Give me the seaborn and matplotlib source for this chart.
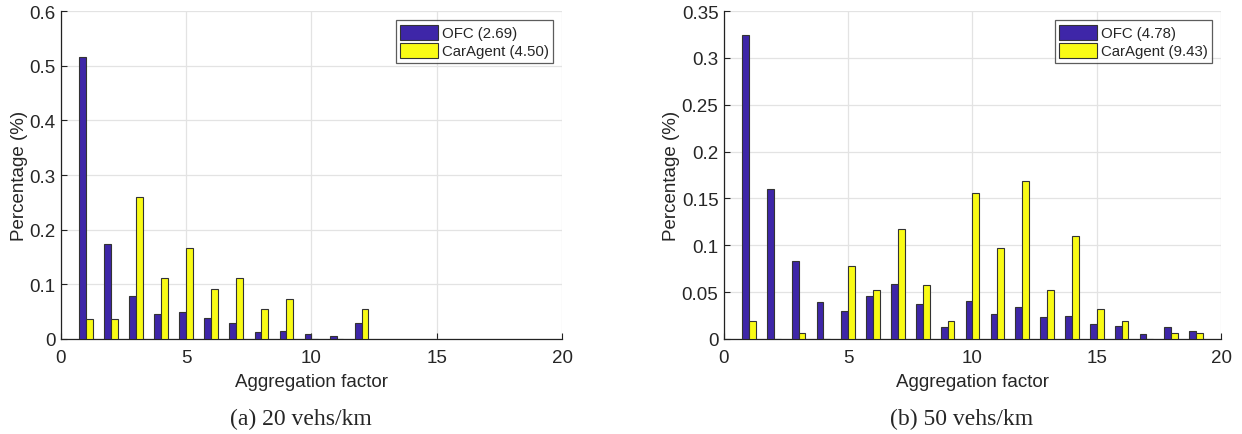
import numpy as np
import pandas as pd
import matplotlib
matplotlib.use("Agg")
import matplotlib.pyplot as plt
import matplotlib.ticker as mticker
import seaborn as sns

# ==========================================================
# Dados
# ==========================================================
fator_a = list(range(1, 13))
ofc_a = [0.516, 0.174, 0.078, 0.045, 0.049, 0.038, 0.029, 0.013, 0.015, 0.010, 0.005, 0.029]
car_a = [0.037, 0.037, 0.259, 0.111, 0.167, 0.092, 0.111, 0.055, 0.074, 0.0, 0.0, 0.055]

fator_b = list(range(1, 20))
ofc_b = [0.324, 0.160, 0.083, 0.040, 0.030, 0.046, 0.059, 0.037, 0.0125, 0.041,
         0.027, 0.034, 0.024, 0.025, 0.016, 0.014, 0.005, 0.0125, 0.008]
car_b = [0.019, 0.0, 0.0065, 0.0, 0.078, 0.052, 0.117, 0.058, 0.019, 0.156,
         0.0975, 0.169, 0.052, 0.110, 0.032, 0.019, 0.0, 0.0065, 0.0065]

rotulos_a = ["OFC (2.69)", "CarAgent (4.50)"]
rotulos_b = ["OFC (4.78)", "CarAgent (9.43)"]
legendas = ["(a) 20 vehs/km", "(b) 50 vehs/km"]

cor_ofc = "#3e26a8"
cor_car = "#f9fb15"

# ==========================================================
# Estilo
# ==========================================================
sns.set_theme(style="whitegrid")
plt.rcParams["font.family"] = ["Liberation Sans", "DejaVu Sans"]


def monta_df(fator, ofc, car, rotulos):
    df1 = pd.DataFrame({"fator": fator, "valor": ofc, "metodo": rotulos[0]})
    df2 = pd.DataFrame({"fator": fator, "valor": car, "metodo": rotulos[1]})
    return pd.concat([df1, df2], ignore_index=True)


fig = plt.figure(figsize=(12.42, 4.35), dpi=100)
ax_a = fig.add_axes([0.0491, 0.2184, 0.4034, 0.754])
ax_b = fig.add_axes([0.5829, 0.2184, 0.4002, 0.754])

config = [
    (ax_a, monta_df(fator_a, ofc_a, car_a, rotulos_a), rotulos_a, 0.6, 0.1),
    (ax_b, monta_df(fator_b, ofc_b, car_b, rotulos_b), rotulos_b, 0.35, 0.05),
]

for ax, df, rotulos, ymax, passo in config:
    sns.barplot(data=df, x="fator", y="valor", hue="metodo", native_scale=True,
                palette={rotulos[0]: cor_ofc, rotulos[1]: cor_car}, saturation=1,
                width=0.55, dodge=True, errorbar=None,
                edgecolor="#333333", linewidth=0.8, ax=ax, zorder=3)
    ax.set_xlim(0, 20)
    ax.set_ylim(0, ymax)
    ax.set_xticks([0, 5, 10, 15, 20])
    ax.set_yticks(np.arange(0, ymax + passo / 2, passo))
    ax.yaxis.set_major_formatter(mticker.FuncFormatter(lambda v, p: f"{v:g}"))
    ax.set_xlabel("Aggregation factor", fontsize=13.5, labelpad=5)
    ax.set_ylabel("Percentage (%)", fontsize=13.5, labelpad=1)
    ax.tick_params(axis="both", labelsize=13.5, direction="in", length=4,
                   width=0.8, color="#222222", left=True, bottom=True, pad=4)
    ax.tick_params(axis="x", pad=7)
    ax.grid(True, color="#e3e3e3", linewidth=0.9)
    ax.set_axisbelow(True)
    for lado in ["top", "right"]:
        ax.spines[lado].set_visible(False)
    for lado in ["left", "bottom"]:
        ax.spines[lado].set_color("#222222")
        ax.spines[lado].set_linewidth(0.9)
    leg = ax.legend(loc="upper right", fontsize=10.8, frameon=True, fancybox=False,
                    edgecolor="#333333", handlelength=2.5, handleheight=1.2,
                    handletextpad=0.25, borderpad=0.3, labelspacing=0.15,
                    borderaxespad=0.6, title=None)
    leg.get_frame().set_linewidth(0.9)

fig.text(0.2425, 0.036, legendas[0], ha="center", va="center", fontsize=17,
         family=["Liberation Serif", "DejaVu Serif"])
fig.text(0.7745, 0.036, legendas[1], ha="center", va="center", fontsize=17,
         family=["Liberation Serif", "DejaVu Serif"])

fig.savefig("out.png", dpi=100)
